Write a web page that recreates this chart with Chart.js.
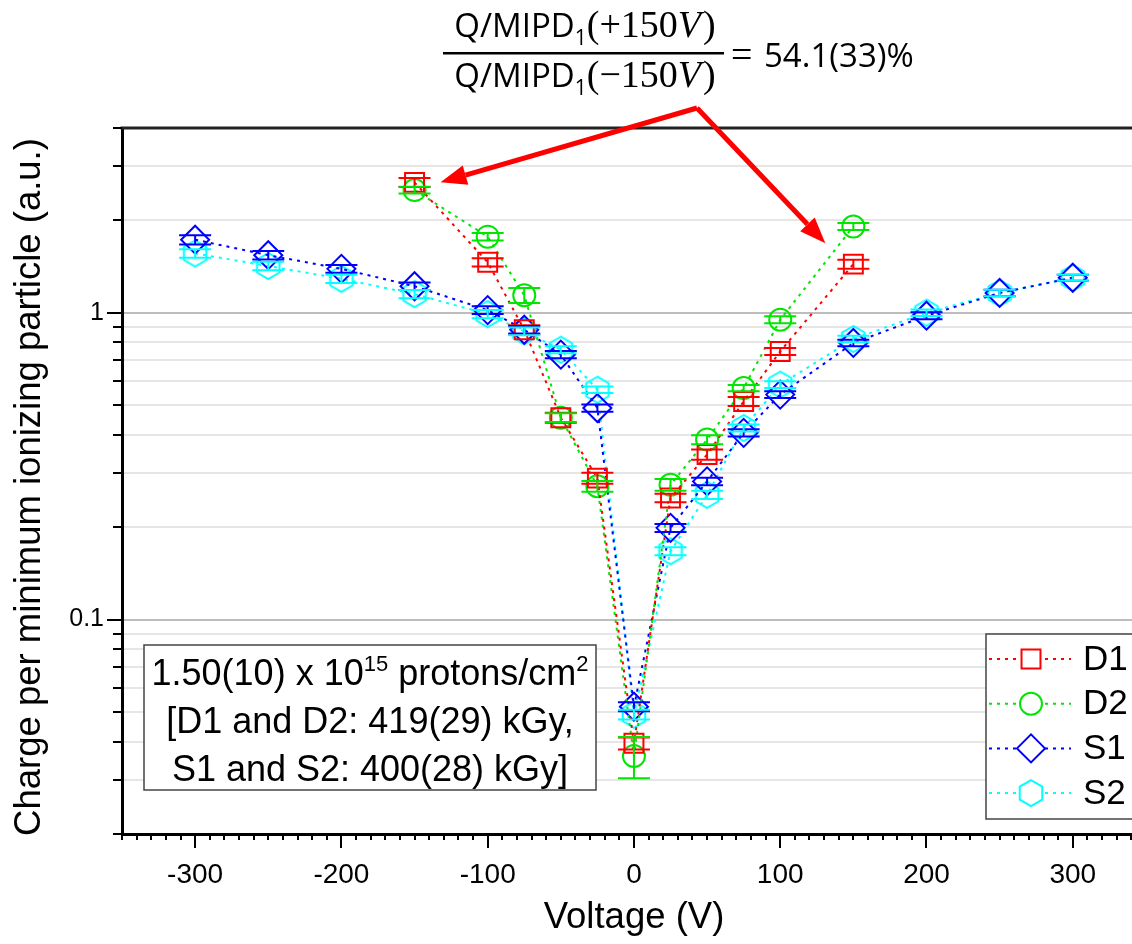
<!DOCTYPE html>
<html>
<head>
<meta charset="utf-8">
<script src="https://cdn.jsdelivr.net/npm/chart.js@4.4.1/dist/chart.umd.min.js"></script>
<style>
  body { margin: 0; background: #fff; }
  #wrap { width: 1132px; height: 944px; }
</style>
</head>
<body>
<div id="wrap"><canvas id="myChart"></canvas></div>
<script>
// voltages (V)
const volt_d = [-150, -100, -75, -50, -25, 0, 25, 50, 75, 100, 150];
const volt_s = [-300, -250, -200, -150, -100, -75, -50, -25, 0, 25, 50, 75, 100, 150, 200, 250, 300];

// charge per MIP (a.u.) and errors
const q_d1 = [2.66, 1.46, 0.88, 0.455, 0.289, 0.0395, 0.249, 0.345, 0.514, 0.748, 1.44];
const e_d1 = [0.09, 0.045, 0.03, 0.017, 0.012, 0.0018, 0.008, 0.013, 0.017, 0.02, 0.048];
const q_d2 = [2.51, 1.77, 1.14, 0.455, 0.272, 0.0359, 0.275, 0.386, 0.568, 0.949, 1.91];
const e_d2 = [0.065, 0.05, 0.064, 0.015, 0.011, 0.0055, 0.012, 0.013, 0.013, 0.025, 0.05];
const q_s1 = [1.73, 1.54, 1.39, 1.22, 1.02, 0.88, 0.73, 0.489, 0.052, 0.199, 0.282, 0.406, 0.541, 0.797, 0.978, 1.16, 1.30];
const e_s1 = [0.06, 0.05, 0.04, 0.035, 0.03, 0.025, 0.02, 0.013, 0.0018, 0.006, 0.008, 0.011, 0.014, 0.02, 0.025, 0.028, 0.03];
const q_s2 = [1.56, 1.42, 1.29, 1.15, 0.99, 0.87, 0.758, 0.561, 0.049, 0.167, 0.255, 0.421, 0.583, 0.821, 1.0, 1.16, 1.30];
const e_s2 = [0.05, 0.045, 0.04, 0.035, 0.03, 0.025, 0.02, 0.014, 0.0018, 0.005, 0.008, 0.011, 0.015, 0.02, 0.025, 0.028, 0.03];

const x_ticks = [-300, -200, -100, 0, 100, 200, 300];
const y_ticks = [0.02, 0.03, 0.04, 0.05, 0.06, 0.07, 0.08, 0.09, 0.1,
                 0.2, 0.3, 0.4, 0.5, 0.6, 0.7, 0.8, 0.9, 1, 2, 3, 4];
const y_labels = [0.1, 1];

const series_names = ['D1', 'D2', 'S1', 'S2'];
const series_colors = ['#ff0000', '#00e600', '#0000ff', '#00ffff'];

function pts(xs, ys) {
    return xs.map((x, i) => ({ x: x, y: ys[i] }));
}

function hexMarker(color, r) {
    const c = document.createElement('canvas');
    const s = Math.ceil(2 * r + 4);
    c.width = s; c.height = s;
    const g = c.getContext('2d');
    g.strokeStyle = color;
    g.lineWidth = 2;
    g.beginPath();
    for (let k = 0; k < 6; k++) {
        const a = Math.PI / 2 + k * Math.PI / 3;
        const px = s / 2 + r * Math.cos(a), py = s / 2 - r * Math.sin(a);
        k ? g.lineTo(px, py) : g.moveTo(px, py);
    }
    g.closePath();
    g.stroke();
    return c;
}

const hex = hexMarker(series_colors[3], 13);
const errs = [e_d1, e_d2, e_s1, e_s2];
const styles = ['rect', 'circle', 'rectRot', hex];
const radii = [13.4, 11, 14, 13];

function isMajor(v) {
    const l = Math.log10(v);
    return Math.abs(l - Math.round(l)) < 1e-9;
}

function makeSet(i, xs, ys) {
    return {
        label: series_names[i],
        data: pts(xs, ys),
        showLine: true,
        borderColor: series_colors[i],
        borderWidth: 2,
        borderDash: [3, 5],
        pointStyle: styles[i],
        pointRadius: radii[i],
        pointHoverRadius: radii[i],
        pointBorderWidth: 2,
        pointBorderColor: series_colors[i],
        pointBackgroundColor: 'rgba(0,0,0,0)'
    };
}

function drawMarker(ctx, i, x, y) {
    const r = radii[i];
    ctx.save();
    ctx.strokeStyle = series_colors[i];
    ctx.fillStyle = '#fff';
    ctx.lineWidth = 2;
    ctx.beginPath();
    if (i === 0) {
        const s = Math.SQRT1_2 * r;
        ctx.rect(x - s, y - s, 2 * s, 2 * s);
    } else if (i === 1) {
        ctx.arc(x, y, r, 0, Math.PI * 2);
    } else if (i === 2) {
        ctx.moveTo(x - r, y); ctx.lineTo(x, y - r); ctx.lineTo(x + r, y); ctx.lineTo(x, y + r);
        ctx.closePath();
    } else {
        for (let k = 0; k < 6; k++) {
            const a = Math.PI / 2 + k * Math.PI / 3;
            const px = x + r * Math.cos(a), py = y - r * Math.sin(a);
            k ? ctx.lineTo(px, py) : ctx.moveTo(px, py);
        }
        ctx.closePath();
    }
    ctx.fill();
    ctx.stroke();
    ctx.restore();
}

function arrow(ctx, x0, y0, x1, y1) {
    const ang = Math.atan2(y1 - y0, x1 - x0);
    const hl = 26, hw = 10;
    const bx = x1 - hl * Math.cos(ang), by = y1 - hl * Math.sin(ang);
    ctx.beginPath();
    ctx.moveTo(x0, y0);
    ctx.lineTo(bx, by);
    ctx.stroke();
    ctx.beginPath();
    ctx.moveTo(x1, y1);
    ctx.lineTo(bx + hw * Math.sin(ang), by - hw * Math.cos(ang));
    ctx.lineTo(bx - hw * Math.sin(ang), by + hw * Math.cos(ang));
    ctx.closePath();
    ctx.fill();
}

const decor = {
    id: 'decor',
    afterDatasetsDraw(chart) {
        const ctx = chart.ctx;
        const xa = chart.scales.x, ya = chart.scales.y;
        ctx.save();
        ctx.lineWidth = 2;
        chart.data.datasets.forEach((ds, i) => {
            ctx.strokeStyle = series_colors[i];
            ds.data.forEach((p, j) => {
                const e = errs[i][j];
                const px = xa.getPixelForValue(p.x);
                const yt = ya.getPixelForValue(p.y + e);
                const yb = ya.getPixelForValue(p.y - e);
                ctx.beginPath();
                ctx.moveTo(px, yt); ctx.lineTo(px, yb);
                ctx.moveTo(px - 16, yt); ctx.lineTo(px + 16, yt);
                ctx.moveTo(px - 16, yb); ctx.lineTo(px + 16, yb);
                ctx.stroke();
            });
        });
        ctx.restore();
    },
    afterDraw(chart) {
        const ctx = chart.ctx;
        const xa = chart.scales.x, ya = chart.scales.y, area = chart.chartArea;
        ctx.save();

        // top frame line
        ctx.strokeStyle = '#222';
        ctx.lineWidth = 3;
        ctx.beginPath();
        ctx.moveTo(area.left - 1.5, area.top);
        ctx.lineTo(area.right + 2, area.top);
        ctx.stroke();

        // tick marks
        ctx.strokeStyle = '#000';
        ctx.lineWidth = 2;
        ctx.beginPath();
        for (let v = -350; v <= 340; v += 10) {
            const px = Math.round(xa.getPixelForValue(v));
            const len = v % 100 === 0 ? 14 : 6;
            ctx.moveTo(px, area.bottom);
            ctx.lineTo(px, area.bottom + len);
        }
        y_ticks.forEach(v => {
            const py = Math.round(ya.getPixelForValue(v));
            const len = isMajor(v) ? 15 : 9;
            ctx.moveTo(area.left, py);
            ctx.lineTo(area.left - len, py);
        });
        ctx.stroke();

        // axis titles
        ctx.fillStyle = '#000';
        ctx.font = '36.5px "Liberation Sans", Arial, sans-serif';
        ctx.textAlign = 'center';
        ctx.textBaseline = 'middle';
        ctx.fillText('Voltage (V)', 634, 918);
        ctx.save();
        ctx.translate(30, 487);
        ctx.rotate(-Math.PI / 2);
        ctx.fillText('Charge per minimum ionizing particle (a.u.)', 0, 0);
        ctx.restore();

        // fluence box
        ctx.fillStyle = '#fff';
        ctx.fillRect(144, 645, 452, 145);
        ctx.strokeStyle = '#444';
        ctx.lineWidth = 1.5;
        ctx.strokeRect(144, 645, 452, 145);
        ctx.fillStyle = '#000';
        const big = '36px "Liberation Sans", Arial, sans-serif';
        const sup = '22px "Liberation Sans", Arial, sans-serif';
        ctx.textBaseline = 'alphabetic';
        const parts = [['1.50(10) x 10', big, 0], ['15', sup, -14], [' protons/cm', big, 0], ['2', sup, -14]];
        let tw = 0;
        parts.forEach(p => { ctx.font = p[1]; tw += ctx.measureText(p[0]).width; });
        let cx = 370 - tw / 2;
        ctx.textAlign = 'left';
        parts.forEach(p => {
            ctx.font = p[1];
            ctx.fillText(p[0], cx, 685 + p[2]);
            cx += ctx.measureText(p[0]).width;
        });
        ctx.textAlign = 'center';
        ctx.font = big;
        ctx.fillText('[D1 and D2: 419(29) kGy,', 370, 733);
        ctx.fillText('S1 and S2: 400(28) kGy]', 370, 781);

        // legend
        ctx.fillStyle = '#fff';
        ctx.fillRect(986, 634, 160, 185);
        ctx.strokeStyle = '#444';
        ctx.lineWidth = 1.5;
        ctx.strokeRect(986, 634, 160, 185);
        series_names.forEach((nm, i) => {
            const ry = 659 + i * 44.7;
            ctx.save();
            ctx.strokeStyle = series_colors[i];
            ctx.lineWidth = 2;
            ctx.setLineDash([3, 5]);
            ctx.beginPath();
            ctx.moveTo(989, ry);
            ctx.lineTo(1071, ry);
            ctx.stroke();
            ctx.restore();
            drawMarker(ctx, i, 1031, ry);
            ctx.fillStyle = '#000';
            ctx.font = '35px "Liberation Sans", Arial, sans-serif';
            ctx.textAlign = 'left';
            ctx.textBaseline = 'middle';
            ctx.fillText(nm, 1083, ry + 1);
        });

        // ratio annotation
        ctx.textBaseline = 'alphabetic';
        ctx.textAlign = 'left';
        const sans = '33px "Open Sans", Lato, sans-serif';
        const sub = '21px "Open Sans", Lato, sans-serif';
        const serif = '38px "Liberation Serif", "DejaVu Serif", serif';
        const serifIt = 'italic 38px "Liberation Serif", "DejaVu Serif", serif';
        function frac(sign, base) {
            const seg = [['Q/MIPD', sans, 0], ['1', sub, 8], ['(' + sign + '150', serif, 0], ['V', serifIt, 0], [')', serif, 0]];
            let w = 0;
            seg.forEach(s => { ctx.font = s[1]; w += ctx.measureText(s[0]).width; });
            let sx = 584 - w / 2;
            seg.forEach(s => {
                ctx.font = s[1];
                ctx.fillText(s[0], sx, base + s[2]);
                sx += ctx.measureText(s[0]).width + (s[0] === 'V' ? 2 : 0);
            });
        }
        frac('+', 37);
        frac('\u2212', 87);
        ctx.fillRect(443, 52, 281, 2.5);
        ctx.font = serif;
        ctx.fillText('=', 731, 67);
        ctx.font = sans;
        ctx.fillText('54.1(33)%', 764, 67);

        // arrows to D1 at -150 V and +150 V
        const m = chart.getDatasetMeta(0).data;
        const pL = m[0], pR = m[m.length - 1];
        ctx.strokeStyle = '#ff0000';
        ctx.fillStyle = '#ff0000';
        ctx.lineWidth = 5;
        arrow(ctx, 697, 108, pL.x + 26, pL.y);
        arrow(ctx, 697, 108, pR.x - 28, pR.y - 21);

        ctx.restore();
    }
};

new Chart(document.getElementById('myChart').getContext('2d'), {
    type: 'scatter',
    data: {
        datasets: [
            makeSet(0, volt_d, q_d1),
            makeSet(1, volt_d, q_d2),
            makeSet(2, volt_s, q_s1),
            makeSet(3, volt_s, q_s2)
        ]
    },
    options: {
        responsive: true,
        maintainAspectRatio: false,
        animation: false,
        layout: { autoPadding: false, padding: { top: 128, left: 0, right: 0, bottom: 0 } },
        plugins: {
            legend: { display: false },
            tooltip: { enabled: false }
        },
        scales: {
            x: {
                type: 'linear',
                min: -350,
                max: 340.5,
                afterBuildTicks: s => { s.ticks = x_ticks.map(v => ({ value: v })); },
                afterFit: s => { s.height = 110; },
                grid: { display: false, drawTicks: false },
                border: { display: true, color: '#000', width: 3 },
                ticks: {
                    color: '#000',
                    font: { family: '"Liberation Sans", Arial, sans-serif', size: 28 },
                    padding: 24,
                    maxRotation: 0,
                    autoSkip: false
                }
            },
            y: {
                type: 'logarithmic',
                min: 0.02,
                max: 4,
                afterBuildTicks: s => { s.ticks = y_ticks.map(v => ({ value: v })); },
                afterFit: s => { s.width = 122; },
                grid: {
                    drawTicks: false,
                    lineWidth: 2,
                    color: c => (c.tick && isMajor(c.tick.value)) ? '#bdbdbd' : '#e6e6e6'
                },
                border: { display: true, color: '#000', width: 3 },
                ticks: {
                    color: '#000',
                    font: { family: '"Liberation Sans", Arial, sans-serif', size: 25 },
                    padding: 18,
                    autoSkip: false,
                    callback: v => y_labels.some(t => Math.abs(t - v) < 1e-9) ? String(v) : ''
                }
            }
        }
    },
    plugins: [decor]
});
</script>
</body>
</html>
